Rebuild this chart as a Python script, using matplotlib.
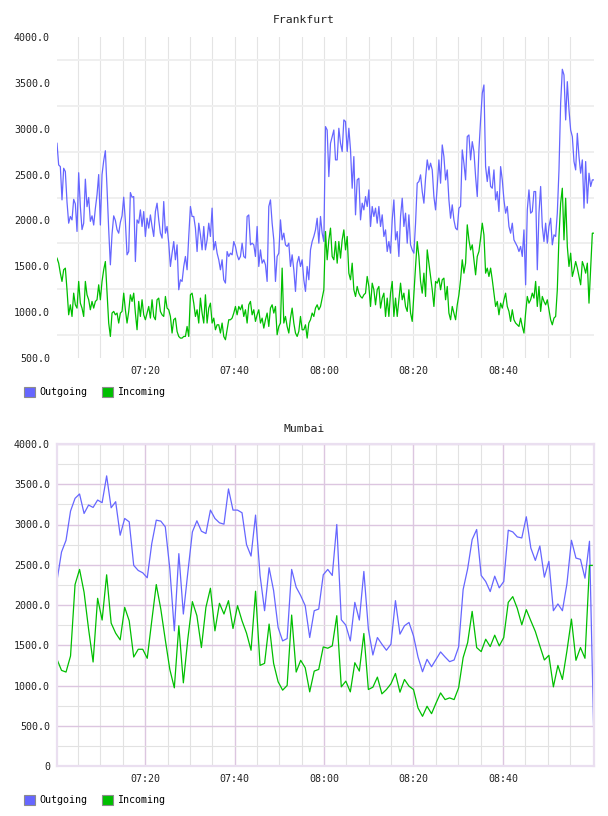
import matplotlib
matplotlib.use('Agg')
import matplotlib.pyplot as plt
from matplotlib.patches import Patch
from matplotlib.ticker import FuncFormatter
import pandas as pd

# Frankfurt traffic, sampled roughly every 22 s
fra_out = [
    2841, 2605, 2587, 2224, 2569, 2533, 2200, 1970, 2043, 2006,
    2230, 2180, 1880, 2520, 2150, 1900, 1970, 2450, 2150, 2250,
    1990, 2050, 1950, 2130, 2280, 2500, 1950, 2500, 2650, 2760,
    2350, 1900, 1516, 1850, 2050, 2000, 1900, 1861, 1980, 2050,
    2253, 1990, 1625, 1661, 2304, 2253, 2260, 1552, 2006, 1970,
    2115, 1934, 2097, 1825, 2024, 1916, 2060, 1934, 1825, 2097,
    2188, 2006, 1861, 1807, 2206, 1861, 1934, 1752, 1498, 1643,
    1770, 1571, 1734, 1244, 1353, 1335, 1498, 1607, 1462, 1825,
    2152, 2043, 2043, 1916, 1661, 1970, 1843, 1679, 1934, 1679,
    1788, 1970, 1825, 2134, 1679, 1770, 1643, 1571, 1462, 1571,
    1353, 1317, 1661, 1607, 1643, 1625, 1770, 1716, 1625, 1571,
    1607, 1752, 1607, 1589, 2043, 2060, 1734, 1752, 1734, 1607,
    1934, 1498, 1679, 1534, 1571, 1516, 1335, 2152, 2224, 1970,
    1788, 1335, 1607, 1643, 2006, 1788, 1861, 1734, 1716, 1752,
    1498, 1625, 1462, 1226, 1534, 1607, 1498, 1571, 1353, 1226,
    1498, 1353, 1679, 1770, 1825, 1897, 2024, 1752, 2043, 1861,
    1770,
    3023, 2986, 2478, 2841, 2914, 2986, 2660, 2660, 3005, 2841,
    2751, 3096, 3078, 2751, 3005, 2769, 2351, 2696, 2061, 2442,
    2460, 2006, 2188, 2115, 2260, 2152, 2333, 1934, 2152, 2043,
    2134, 1970, 2152, 1934, 2061, 1825, 1897, 1661, 1770, 1643,
    2006, 2224, 1788, 1879, 1607, 2043, 2242, 1934, 2079, 1752,
    2061, 1734, 1679, 1643, 1970, 2406, 2424, 2497, 2315, 2188,
    2460, 2660, 2551, 2624, 2551, 2260, 2115, 2370, 2660, 2406,
    2823, 2696, 2442, 2551, 2224, 2024, 2170, 2006, 1916, 1897,
    2134, 2152, 2769, 2624, 2442, 2914, 2932, 2660, 2859, 2751,
    2478, 2260, 2769, 3096, 3386, 3477, 2587, 2424, 2587, 2370,
    2351, 2551, 2224, 2315, 2097, 2587, 2442, 2224, 2079, 2152,
    1934, 1861, 1970, 1788, 1752, 1716, 1661, 1716, 1607, 1897,
    1298, 2115, 2333, 2079, 2097, 2315, 2315, 1462, 2079, 2370,
    1934, 1770, 1970, 1752, 1934, 2024, 1734, 1843, 1825, 2079,
    2551, 3277, 3648, 3586, 3096, 3513, 3205, 2986, 2914, 2642,
    2551, 2950, 2696, 2515, 2660, 2134, 2642, 2188, 2515, 2370,
    2442, 2442,
]
fra_in = [
    1589, 1534, 1425, 1335, 1462, 1480, 1244, 971, 1080, 953,
    1207, 1080, 1044, 1335, 1098, 1044, 953, 1335, 1189, 1135,
    1026, 1117, 1044, 1117, 1135, 1298, 1135, 1335, 1462, 1552,
    1207, 881, 735, 990, 1008, 971, 990, 881, 990, 1008,
    1207, 1026, 881, 1008, 1189, 1117, 1207, 990, 808, 1117,
    953, 1135, 971, 917, 990, 1062, 935, 1135, 953, 917,
    1135, 1153, 1008, 971, 953, 1171, 1044, 1026, 953, 772,
    917, 935, 790, 735, 717, 717, 735, 735, 844, 735,
    1189, 1207, 1098, 953, 1026, 881, 1153, 990, 881, 1189,
    881, 1044, 1098, 881, 935, 808, 862, 862, 772, 881,
    735, 699, 808, 917, 917, 935, 990, 1062, 971, 1062,
    1026, 1080, 953, 1026, 881, 1080, 1117, 971, 1026, 899,
    971, 1026, 881, 935, 826, 917, 990, 844, 1044, 1080,
    990, 1062, 754, 844, 881, 1480, 881, 953, 844, 772,
    935, 1044, 881, 772, 735, 790, 953, 808, 808, 862,
    717, 881, 917, 990, 953, 1044, 1080, 1026, 1062, 1153,
    1244,
    1879, 1571, 1788, 1916, 1607, 1571, 1770, 1534, 1770, 1589,
    1788, 1897, 1679, 1825, 1425, 1353, 1534, 1244, 1171, 1280,
    1207, 1171, 1153, 1189, 1207, 1389, 1280, 1062, 1316, 1244,
    1080, 1244, 1280, 1044, 1153, 1207, 953, 1153, 953, 1207,
    1335, 953, 1153, 953, 1135, 1316, 1135, 1207, 1062, 1008,
    1244, 990, 899, 1207, 1498, 1770, 1607, 1335, 1207, 1425,
    1171, 1679, 1534, 1389, 1244, 1062, 1335, 1316, 1371, 1244,
    1353, 1371, 1135, 1280, 990, 917, 1062, 990, 917, 1080,
    1189, 1353, 1571, 1425, 1534, 1952, 1788, 1679, 1734, 1571,
    1407, 1607, 1661, 1807, 1970, 1843, 1425, 1480, 1389, 1480,
    1353, 1207, 1062, 1117, 971, 1098, 1044, 1135, 1207, 1062,
    1008, 899, 1026, 917, 881, 862, 844, 935, 844, 772,
    990, 1171, 1098, 1135, 1207, 1153, 1335, 1062, 1280, 1008,
    1171, 1117, 1080, 1135, 1026, 917, 862, 935, 953, 1244,
    1825, 2188, 2351, 1788, 2242, 1716, 1498, 1643, 1389, 1462,
    1552, 1480, 1389, 1298, 1552, 1498, 1425, 1534, 1098, 1480,
    1861, 1861,
]

# Mumbai traffic, one sample a minute
mum_out = [
    2304, 2658, 2804, 3167, 3325, 3379, 3137, 3242, 3212, 3304,
    3271, 3604, 3208, 3283, 2867, 3075, 3033, 2492, 2429, 2400,
    2338, 2763, 3054, 3042, 2971, 2450, 1679, 2638, 1888, 2408,
    2908, 3046, 2917, 2888, 3179, 3075, 3021, 3004, 3442, 3179,
    3179, 3146, 2750, 2608, 3117, 2367, 1929, 2463, 2179, 1721,
    1554, 1583, 2442, 2221, 2117, 1992, 1596, 1929, 1950, 2375,
    2442, 2367, 3000, 1817, 1750, 1554, 2033, 1813, 2417, 1700,
    1379, 1596, 1513, 1438, 1513, 2054, 1638, 1742, 1783, 1617,
    1354, 1171, 1325, 1233, 1325, 1417, 1354, 1296, 1317, 1479,
    2192, 2450, 2813, 2938, 2367, 2292, 2167, 2358, 2213, 2292,
    2929, 2908, 2846, 2833, 3096, 2708, 2554, 2733, 2346, 2542,
    1929, 2013, 1929, 2263, 2804, 2583, 2567, 2333, 2792, 263,
]
mum_in = [
    1325, 1188, 1167, 1367, 2254, 2442, 2158, 1700, 1292, 2083,
    1813, 2375, 1775, 1650, 1567, 1971, 1804, 1354, 1450, 1450,
    1338, 1804, 2254, 1950, 1567, 1200, 971, 1742, 1033, 1583,
    2042, 1867, 1471, 1971, 2208, 1679, 2021, 1888, 2054, 1708,
    1992, 1804, 1650, 1438, 2171, 1250, 1275, 1763, 1275, 1046,
    942, 1000, 1875, 1167, 1313, 1221, 921, 1179, 1200, 1479,
    1463, 1492, 1867, 983, 1054, 921, 1283, 1179, 1646, 950,
    979, 1104, 896, 950, 1021, 1150, 917, 1075, 992, 950,
    721, 617, 742, 650, 783, 908, 825, 846, 825, 971,
    1346, 1533, 1921, 1471, 1421, 1575, 1483, 1625, 1492, 1596,
    2033, 2104, 1958, 1754, 1942, 1804, 1671, 1492, 1317, 1375,
    983, 1250, 1075, 1429, 1825, 1313, 1471, 1338, 2492, 2492,
]

start, end = '2024-01-01 07:00:17', '2024-01-01 09:00:22'
tick_labels = ['07:20', '07:40', '08:00', '08:20', '08:40']
series_names = ['Outgoing', 'Incoming']
colors = ['#6666ff', '#00bf00']

FONT = 'DejaVu Sans Mono'
plt.rcParams['font.family'] = FONT


def times(values):
    return pd.date_range(start, end, periods=len(values))


def style(ax, ymin, pink):
    ax.set_xlim(pd.Timestamp(start), pd.Timestamp(end))
    ax.set_ylim(ymin, 4000)
    major = [pd.Timestamp('2024-01-01 ' + t) for t in tick_labels]
    minor = [t for t in pd.date_range('2024-01-01 07:05', '2024-01-01 08:55', freq='5min') if t not in major]
    ax.set_xticks(major)
    ax.set_xticklabels(tick_labels)
    ax.set_xticks(minor, minor=True)
    ax.set_yticks(range(ymin, 4001, 500))
    ax.set_yticks(range(ymin + 250, 4000, 500), minor=True)
    ax.yaxis.set_major_formatter(FuncFormatter(lambda v, p: '0' if v == 0 else f'{v:.1f}'))
    ax.tick_params(which='both', length=0, labelsize=7.2, colors='#222222')
    ax.tick_params(axis='y', pad=5)
    ax.tick_params(axis='x', pad=6)
    if pink:
        ax.grid(True, which='major', color='#dcc6e0', lw=1.0)
        ax.grid(True, which='minor', color='#e2e2e2', lw=0.8)
        for s in ax.spines.values():
            s.set_color('#eadff0')
            s.set_linewidth(1.6)
    else:
        ax.grid(True, which='major', axis='x', color='#e4e4e4', lw=0.8)
        ax.grid(True, which='minor', axis='x', color='#e4e4e4', lw=0.8)
        ax.grid(True, which='minor', axis='y', color='#efefef', lw=1.4)
        for s in ax.spines.values():
            s.set_visible(False)
    ax.set_axisbelow(True)


fig = plt.figure(figsize=(6.08, 8.16), dpi=100)
ax1 = fig.add_axes([57 / 608, 1 - 358 / 816, 537 / 608, 321 / 816])
ax2 = fig.add_axes([57 / 608, 1 - 766 / 816, 537 / 608, 322 / 816])

ax1.plot(times(fra_out), fra_out, color=colors[0], lw=0.9)
ax1.plot(times(fra_in), fra_in, color=colors[1], lw=0.9)
style(ax1, 500, False)

ax2.plot(times(mum_out), mum_out, color=colors[0], lw=0.9)
ax2.plot(times(mum_in), mum_in, color=colors[1], lw=0.9)
style(ax2, 0, True)

fig.text(0.5, 1 - 20 / 816, 'Frankfurt', ha='center', va='center', fontsize=8.2, color='#222222')
fig.text(0.5, 1 - 429 / 816, 'Mumbai', ha='center', va='center', fontsize=8.2, color='#222222')

handles = [Patch(facecolor=c, edgecolor='#8c8c8c', lw=0.8) for c in colors]
for y in [392, 800]:
    fig.legend(handles, series_names, loc='center left', bbox_to_anchor=(24 / 608, 1 - y / 816),
               ncol=2, frameon=False, borderpad=0, borderaxespad=0, handlelength=1.1,
               handleheight=1.1, handletextpad=0.4, columnspacing=1.5,
               prop={'family': FONT, 'size': 7.2})

plt.savefig('out.png', dpi=100)
plt.close()
